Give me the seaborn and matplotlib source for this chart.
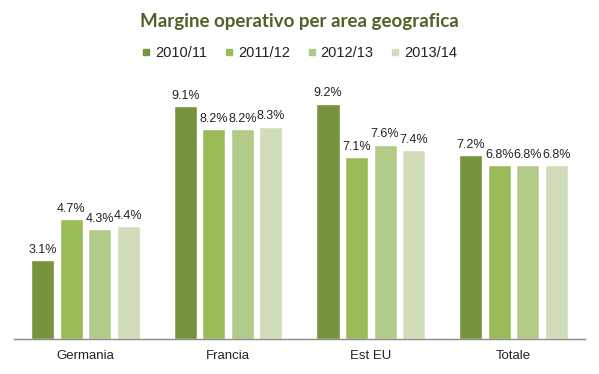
import pandas as pd
import seaborn as sns
import matplotlib.pyplot as plt

aree = ['Germania', 'Francia', 'Est EU', 'Totale']
anni = ['2010/11', '2011/12', '2012/13', '2013/14']
m_2010 = [3.1, 9.1, 9.2, 7.2]
m_2011 = [4.7, 8.2, 7.1, 6.8]
m_2012 = [4.3, 8.2, 7.6, 6.8]
m_2013 = [4.4, 8.3, 7.4, 6.8]

colori = ['#77933C', '#9BBB59', '#B1CA88', '#D0DDB8']

rows = []
for anno, vals in zip(anni, [m_2010, m_2011, m_2012, m_2013]):
    for area, v in zip(aree, vals):
        rows.append({'area': area, 'anno': anno, 'margine': v})
df = pd.DataFrame(rows)

sns.set_style('white')
plt.rcParams['font.family'] = ['Liberation Sans', 'DejaVu Sans']

fig = plt.figure(figsize=(5.99, 3.74), dpi=100)
ax = fig.add_axes([0.0234, 0.0936, 0.953, 0.684])

sns.barplot(data=df, x='area', y='margine', hue='anno', order=aree, hue_order=anni,
            palette=colori, width=0.8, gap=0.19, saturation=1, errorbar=None,
            legend=False, ax=ax)

for cont in ax.containers:
    ax.bar_label(cont, labels=[f'{b.get_height():.1f}%' for b in cont],
                 padding=3, fontsize=9, color='#222222')

ax.set_ylim(0, 10)
ax.set_xlim(-0.5, 3.5)
ax.set_xlabel('')
ax.set_ylabel('')
ax.set_yticks([])
ax.tick_params(axis='x', length=0, labelsize=9.5, pad=8, colors='#222222')
for s in ['top', 'left', 'right']:
    ax.spines[s].set_visible(False)
ax.spines['bottom'].set_color('#8C8C8C')
ax.spines['bottom'].set_linewidth(1)

fig.text(0.5, 1 - 22 / 374, 'Margine operativo per area geografica', ha='center', va='center',
         fontsize=13.5, fontweight='bold', color='#4F6228', family=['Lato', 'DejaVu Sans'])

handles = [plt.Line2D([], [], marker='s', linestyle='', markersize=5, color=c) for c in colori]
fig.legend(handles, anni, loc='center', bbox_to_anchor=(0.5, 1 - 53 / 374), ncol=4,
           frameon=False, fontsize=10.5, handlelength=0.6, handletextpad=0.3,
           columnspacing=1.2, labelcolor='#222222')

fig.savefig('out.png', dpi=100)
